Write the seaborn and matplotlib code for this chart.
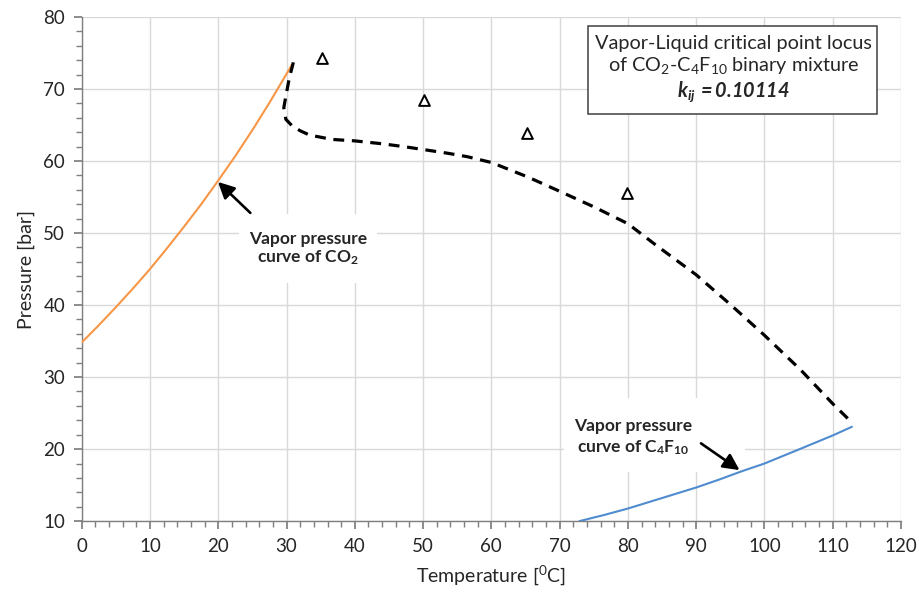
import matplotlib
matplotlib.use("Agg")
import matplotlib.pyplot as plt
from matplotlib.ticker import MultipleLocator
from matplotlib.patches import Rectangle
import seaborn as sns
import pandas as pd

# ---- data ----
co2_T = [0, 2.5, 5, 7.5, 10, 12.5, 15, 17.5, 20, 22.5, 25, 27.5, 30, 30.8]
co2_P = [34.8, 37.2, 39.7, 42.3, 45.0, 47.9, 50.9, 54.0, 57.3, 60.7, 64.3, 68.1, 72.1, 73.4]

c4f10_T = [72.9, 76.5, 80, 84.8, 90, 93.3, 96.6, 100, 104.9, 110, 112.8]
c4f10_P = [10.0, 10.85, 11.75, 13.15, 14.67, 15.75, 16.9, 18.0, 19.9, 21.9, 23.1]

locus_T = [31.0, 30.4, 29.9, 29.6, 29.9, 30.8, 32.0, 33.4, 36.7, 40.0, 44.0, 47.2, 50.0,
           53.5, 56.5, 60.0, 65.3, 70.0, 75.1, 80.0, 84.0, 87.0, 90.0, 95.1, 100.0, 105.3, 110.0, 112.9]
locus_P = [73.7, 71.5, 69.0, 67.4, 65.8, 64.9, 64.2, 63.6, 63.0, 62.8, 62.4, 62.0, 61.6,
           61.1, 60.6, 59.8, 57.8, 55.8, 53.6, 51.3, 48.4, 46.3, 44.2, 40.0, 35.8, 31.0, 26.3, 23.6]

exp_T = [35.2, 50.1, 65.2, 79.9]
exp_P = [74.3, 68.5, 63.9, 55.6]

x_ticks = list(range(0, 121, 10))
y_ticks = list(range(10, 81, 10))

sns.set_theme(style="white")
plt.rcParams['font.family'] = ['Lato', 'DejaVu Sans']
plt.rcParams['mathtext.fontset'] = 'custom'
plt.rcParams['mathtext.rm'] = 'Lato'
plt.rcParams['mathtext.it'] = 'Lato:italic'
plt.rcParams['mathtext.bf'] = 'Lato:bold'
plt.rcParams['mathtext.bfit'] = 'Lato:italic:bold'

fig = plt.figure(figsize=(9.2, 5.99), dpi=100)
ax = fig.add_axes([0.0888, 0.130, 0.8906, 0.8416])

df_co2 = pd.DataFrame({"T": co2_T, "P": co2_P})
df_c4 = pd.DataFrame({"T": c4f10_T, "P": c4f10_P})
df_loc = pd.DataFrame({"T": locus_T, "P": locus_P})
df_exp = pd.DataFrame({"T": exp_T, "P": exp_P})

sns.lineplot(data=df_co2, x="T", y="P", ax=ax, color="#F79646", lw=1.5, zorder=4)
sns.lineplot(data=df_c4, x="T", y="P", ax=ax, color="#4F8BCF", lw=1.5, zorder=4)
sns.lineplot(data=df_loc, x="T", y="P", ax=ax, color="black", lw=2.3, sort=False,
             estimator=None, dashes=False, linestyle=(0, (3.4, 2.4)), zorder=4)
sns.scatterplot(data=df_exp, x="T", y="P", ax=ax, marker="^", s=60,
                facecolor="white", edgecolor="black", linewidth=1.4, zorder=5)

ax.set_xlim(0, 120)
ax.set_ylim(10, 80)
ax.set_xticks(x_ticks)
ax.set_yticks(y_ticks)
ax.xaxis.set_minor_locator(MultipleLocator(2))
ax.yaxis.set_minor_locator(MultipleLocator(2))
ax.grid(True, which="major", color="#D9D9D9", lw=1)
ax.set_axisbelow(True)
for s in ["top", "right"]:
    ax.spines[s].set_visible(False)
for s in ["left", "bottom"]:
    ax.spines[s].set_color("#7F7F7F")
    ax.spines[s].set_linewidth(1)
ax.tick_params(which="major", direction="out", length=6, color="#7F7F7F", labelsize=13.5, pad=6)
ax.tick_params(which="minor", direction="out", length=4, color="#7F7F7F")
ax.tick_params(axis="both", which="both", bottom=True, left=True)

ax.set_xlabel("Temperature [$^0$C]", fontsize=14, labelpad=6)
ax.set_ylabel("Pressure [bar]", fontsize=14, labelpad=6)

# title box (top right)
ax.add_patch(Rectangle((74.2, 66.6), 42.3, 12.2, facecolor="white", edgecolor="#404040",
                       lw=1.1, zorder=6))
ax.text(95.5, 72.7,
        "Vapor-Liquid critical point locus\nof CO$_2$-C$_4$F$_{10}$ binary mixture\n"
        r"$\mathbfit{k}_{\mathbfit{ij}}\,\mathbfit{{=}0.10114}$",
        ha="center", va="center", fontsize=14.3, linespacing=1.2, zorder=7)

# CO2 annotation
ax.add_patch(Rectangle((23.1, 43.0), 20.2, 9.7, facecolor="white", edgecolor="none", zorder=3))
ax.text(33.2, 47.8, "Vapor pressure\ncurve of CO$_\\mathbf{2}$", ha="center", va="center",
        fontsize=12.5, fontweight="bold", linespacing=1.15, zorder=6)
ax.annotate("", xy=(19.96, 57.1), xytext=(24.7, 52.8), zorder=6,
            arrowprops=dict(arrowstyle="-|>,head_length=0.7,head_width=0.35", color="black",
                            lw=1.9, shrinkA=0, shrinkB=0, mutation_scale=14))

# C4F10 annotation
ax.add_patch(Rectangle((70.7, 16.8), 26.5, 10.3, facecolor="white", edgecolor="none", zorder=3))
ax.text(80.8, 21.6, "Vapor pressure\ncurve of C$_\\mathbf{4}$F$_\\mathbf{10}$", ha="center", va="center",
        fontsize=12.5, fontweight="bold", linespacing=1.35, zorder=6)
ax.annotate("", xy=(96.35, 17.08), xytext=(90.7, 20.8), zorder=6,
            arrowprops=dict(arrowstyle="-|>,head_length=0.7,head_width=0.35", color="black",
                            lw=1.9, shrinkA=0, shrinkB=0, mutation_scale=14))

fig.savefig("out.png", dpi=100, facecolor="white")
